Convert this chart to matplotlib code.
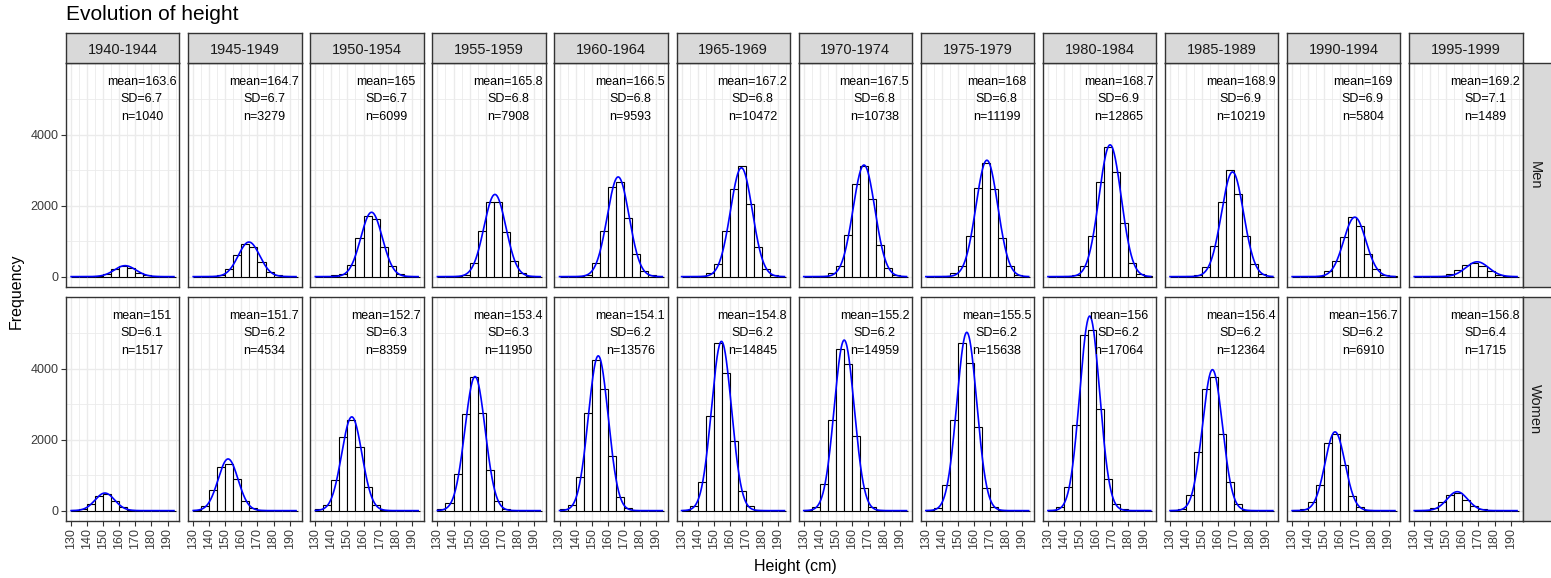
import numpy as np
import matplotlib
matplotlib.use("Agg")
import matplotlib.pyplot as plt
from matplotlib.ticker import MultipleLocator, FixedLocator

plt.rcParams['font.family'] = ['Liberation Sans', 'DejaVu Sans']

# ---- data ----
periods = ["1940-1944", "1945-1949", "1950-1954", "1955-1959", "1960-1964", "1965-1969",
           "1970-1974", "1975-1979", "1980-1984", "1985-1989", "1990-1994", "1995-1999"]
sexes = ["Men", "Women"]

# left edges of the 5 cm bins: 130, 135, ..., 190
bin_lefts = [130, 135, 140, 145, 150, 155, 160, 165, 170, 175, 180, 185, 190]
bin_width = 5

men_counts = [
    [0, 0, 0, 10, 80, 225, 300, 245, 95, 35, 10, 0, 0],
    [0, 0, 15, 60, 225, 615, 925, 830, 410, 120, 35, 5, 0],
    [0, 0, 40, 85, 335, 1085, 1710, 1615, 830, 290, 70, 15, 0],
    [0, 0, 20, 60, 385, 1300, 2110, 2110, 1270, 450, 110, 20, 0],
    [0, 0, 15, 60, 390, 1300, 2530, 2670, 1665, 650, 150, 40, 0],
    [0, 0, 20, 90, 345, 1275, 2480, 3130, 2040, 850, 205, 45, 0],
    [0, 0, 20, 90, 310, 1175, 2600, 3130, 2200, 900, 250, 50, 0],
    [0, 0, 20, 90, 300, 1145, 2500, 3200, 2480, 1090, 300, 60, 0],
    [0, 0, 10, 45, 300, 1155, 2670, 3670, 2950, 1525, 390, 85, 20],
    [0, 0, 10, 45, 280, 855, 2110, 3000, 2345, 1155, 345, 85, 0],
    [0, 0, 0, 15, 160, 455, 1115, 1675, 1430, 650, 225, 55, 10],
    [0, 0, 0, 10, 70, 180, 320, 390, 300, 160, 50, 15, 0],
]
women_counts = [
    [10, 50, 180, 400, 480, 270, 90, 20, 0, 0, 0, 0, 0],
    [25, 120, 575, 1240, 1320, 890, 280, 65, 10, 0, 0, 0, 0],
    [40, 160, 865, 2075, 2560, 1795, 670, 160, 30, 0, 0, 0, 0],
    [35, 205, 1040, 2725, 3770, 2745, 1135, 260, 45, 0, 0, 0, 0],
    [35, 170, 940, 2760, 4250, 3430, 1530, 380, 75, 0, 0, 0, 0],
    [30, 130, 820, 2665, 4720, 3880, 1965, 540, 130, 20, 0, 0, 0],
    [25, 100, 745, 2545, 4560, 4140, 2105, 635, 100, 30, 0, 0, 0],
    [25, 75, 710, 2555, 4735, 4175, 2370, 645, 100, 25, 0, 0, 0],
    [30, 100, 680, 2430, 4950, 5090, 2855, 895, 195, 40, 0, 0, 0],
    [20, 55, 430, 1660, 3430, 3765, 2155, 820, 195, 30, 0, 0, 0],
    [10, 50, 240, 725, 1920, 2155, 1285, 420, 100, 15, 0, 0, 0],
    [0, 20, 80, 250, 440, 500, 300, 120, 40, 0, 0, 0, 0],
]

men_mean = [163.6, 164.7, 165, 165.8, 166.5, 167.2, 167.5, 168, 168.7, 168.9, 169, 169.2]
men_sd = [6.7, 6.7, 6.7, 6.8, 6.8, 6.8, 6.8, 6.8, 6.9, 6.9, 6.9, 7.1]
men_n = [1040, 3279, 6099, 7908, 9593, 10472, 10738, 11199, 12865, 10219, 5804, 1489]

women_mean = [151, 151.7, 152.7, 153.4, 154.1, 154.8, 155.2, 155.5, 156, 156.4, 156.7, 156.8]
women_sd = [6.1, 6.2, 6.3, 6.3, 6.2, 6.2, 6.2, 6.2, 6.2, 6.2, 6.2, 6.4]
women_n = [1517, 4534, 8359, 11950, 13576, 14845, 14959, 15638, 17064, 12364, 6910, 1715]

counts = [men_counts, women_counts]
means = [men_mean, women_mean]
sds = [men_sd, women_sd]
ns = [men_n, women_n]

# ---- layout (pixels) ----
W, H = 1551, 578
fig = plt.figure(figsize=(W / 100, H / 100), dpi=100)


def px_rect(x0, y0, x1, y1):
    return [x0 / W, 1 - y1 / H, (x1 - x0) / W, (y1 - y0) / H]


panel_left0, panel_pitch, panel_w = 66, 122.1, 113.4
row_tops = [63.3, 297.3]
row_h = 223.5
grid_col = "#EBEBEB"
border_col = "#333333"
strip_col = "#D9D9D9"

for r in range(2):
    for c in range(12):
        x0 = panel_left0 + c * panel_pitch
        y0 = row_tops[r]
        ax = fig.add_axes(px_rect(x0, y0, x0 + panel_w, y0 + row_h))
        ax.set_xlim(126.8, 197.4)
        ax.set_ylim(-287, 6020)
        ax.set_axisbelow(True)

        ax.xaxis.set_major_locator(MultipleLocator(10))
        ax.xaxis.set_minor_locator(FixedLocator([135, 145, 155, 165, 175, 185, 195]))
        ax.yaxis.set_major_locator(FixedLocator([0, 2000, 4000]))
        ax.yaxis.set_minor_locator(FixedLocator([1000, 3000, 5000]))
        ax.grid(True, which="major", color=grid_col, lw=1.0)
        ax.grid(True, which="minor", color=grid_col, lw=0.6)
        for s in ax.spines.values():
            s.set_color(border_col)
            s.set_linewidth(1.0)

        ax.bar(bin_lefts, counts[r][c], width=bin_width, align="edge",
               facecolor="white", edgecolor="black", linewidth=0.8, zorder=2)

        m, sd, n = means[r][c], sds[r][c], ns[r][c]
        xs = np.linspace(130, 194, 300)
        ys = n * bin_width * np.exp(-0.5 * ((xs - m) / sd) ** 2) / (sd * np.sqrt(2 * np.pi))
        ax.plot(xs, ys, color="#0000FF", lw=1.2, zorder=3)

        for txt, yy in [(f"mean={m:g}", 5500), (f"SD={sd:g}", 5000), (f"n={n}", 4500)]:
            ax.text(174, yy, txt, ha="center", va="center", fontsize=9,
                    color="black", zorder=4)

        ax.tick_params(which="both", length=0)
        ax.tick_params(which="major", length=3.5, color=border_col, width=0.8,
                       labelsize=9, labelcolor="#3A3A3A", pad=2)
        if c == 0:
            ax.set_yticklabels(["0", "2000", "4000"])
        else:
            ax.tick_params(axis="y", which="major", length=0, labelleft=False)
        if r == 1:
            ax.set_xticks([130, 140, 150, 160, 170, 180, 190])
            ax.set_xticklabels(["130", "140", "150", "160", "170", "180", "190"], rotation=90)
        else:
            ax.tick_params(axis="x", which="major", length=0, labelbottom=False)

        # column strips
        if r == 0:
            sax = fig.add_axes(px_rect(x0, 33, x0 + panel_w, y0))
            sax.set_facecolor(strip_col)
            sax.set_xticks([])
            sax.set_yticks([])
            for s in sax.spines.values():
                s.set_color(border_col)
                s.set_linewidth(1.0)
            sax.text(0.5, 0.45, periods[c], ha="center", va="center",
                     fontsize=10.5, color="#1A1A1A", transform=sax.transAxes)

    # row strips
    y0 = row_tops[r]
    rax = fig.add_axes(px_rect(1522.5, y0, 1560, y0 + row_h))
    rax.set_facecolor(strip_col)
    rax.set_xticks([])
    rax.set_yticks([])
    for s in rax.spines.values():
        s.set_color(border_col)
        s.set_linewidth(1.0)
    fig.text(1535 / W, 1 - (y0 + row_h / 2) / H, sexes[r], rotation=270,
             ha="center", va="center", fontsize=10.5, color="#1A1A1A")

fig.text(66 / W, 1 - 14 / H, "Evolution of height", ha="left", va="center",
         fontsize=15, color="black")
fig.text(16 / W, 1 - 291 / H, "Frequency", rotation=90, ha="center", va="center",
         fontsize=11.5, color="black")
fig.text(795 / W, 1 - 566 / H, "Height (cm)", ha="center", va="center",
         fontsize=11.5, color="black")

fig.savefig("out.png", dpi=100)
